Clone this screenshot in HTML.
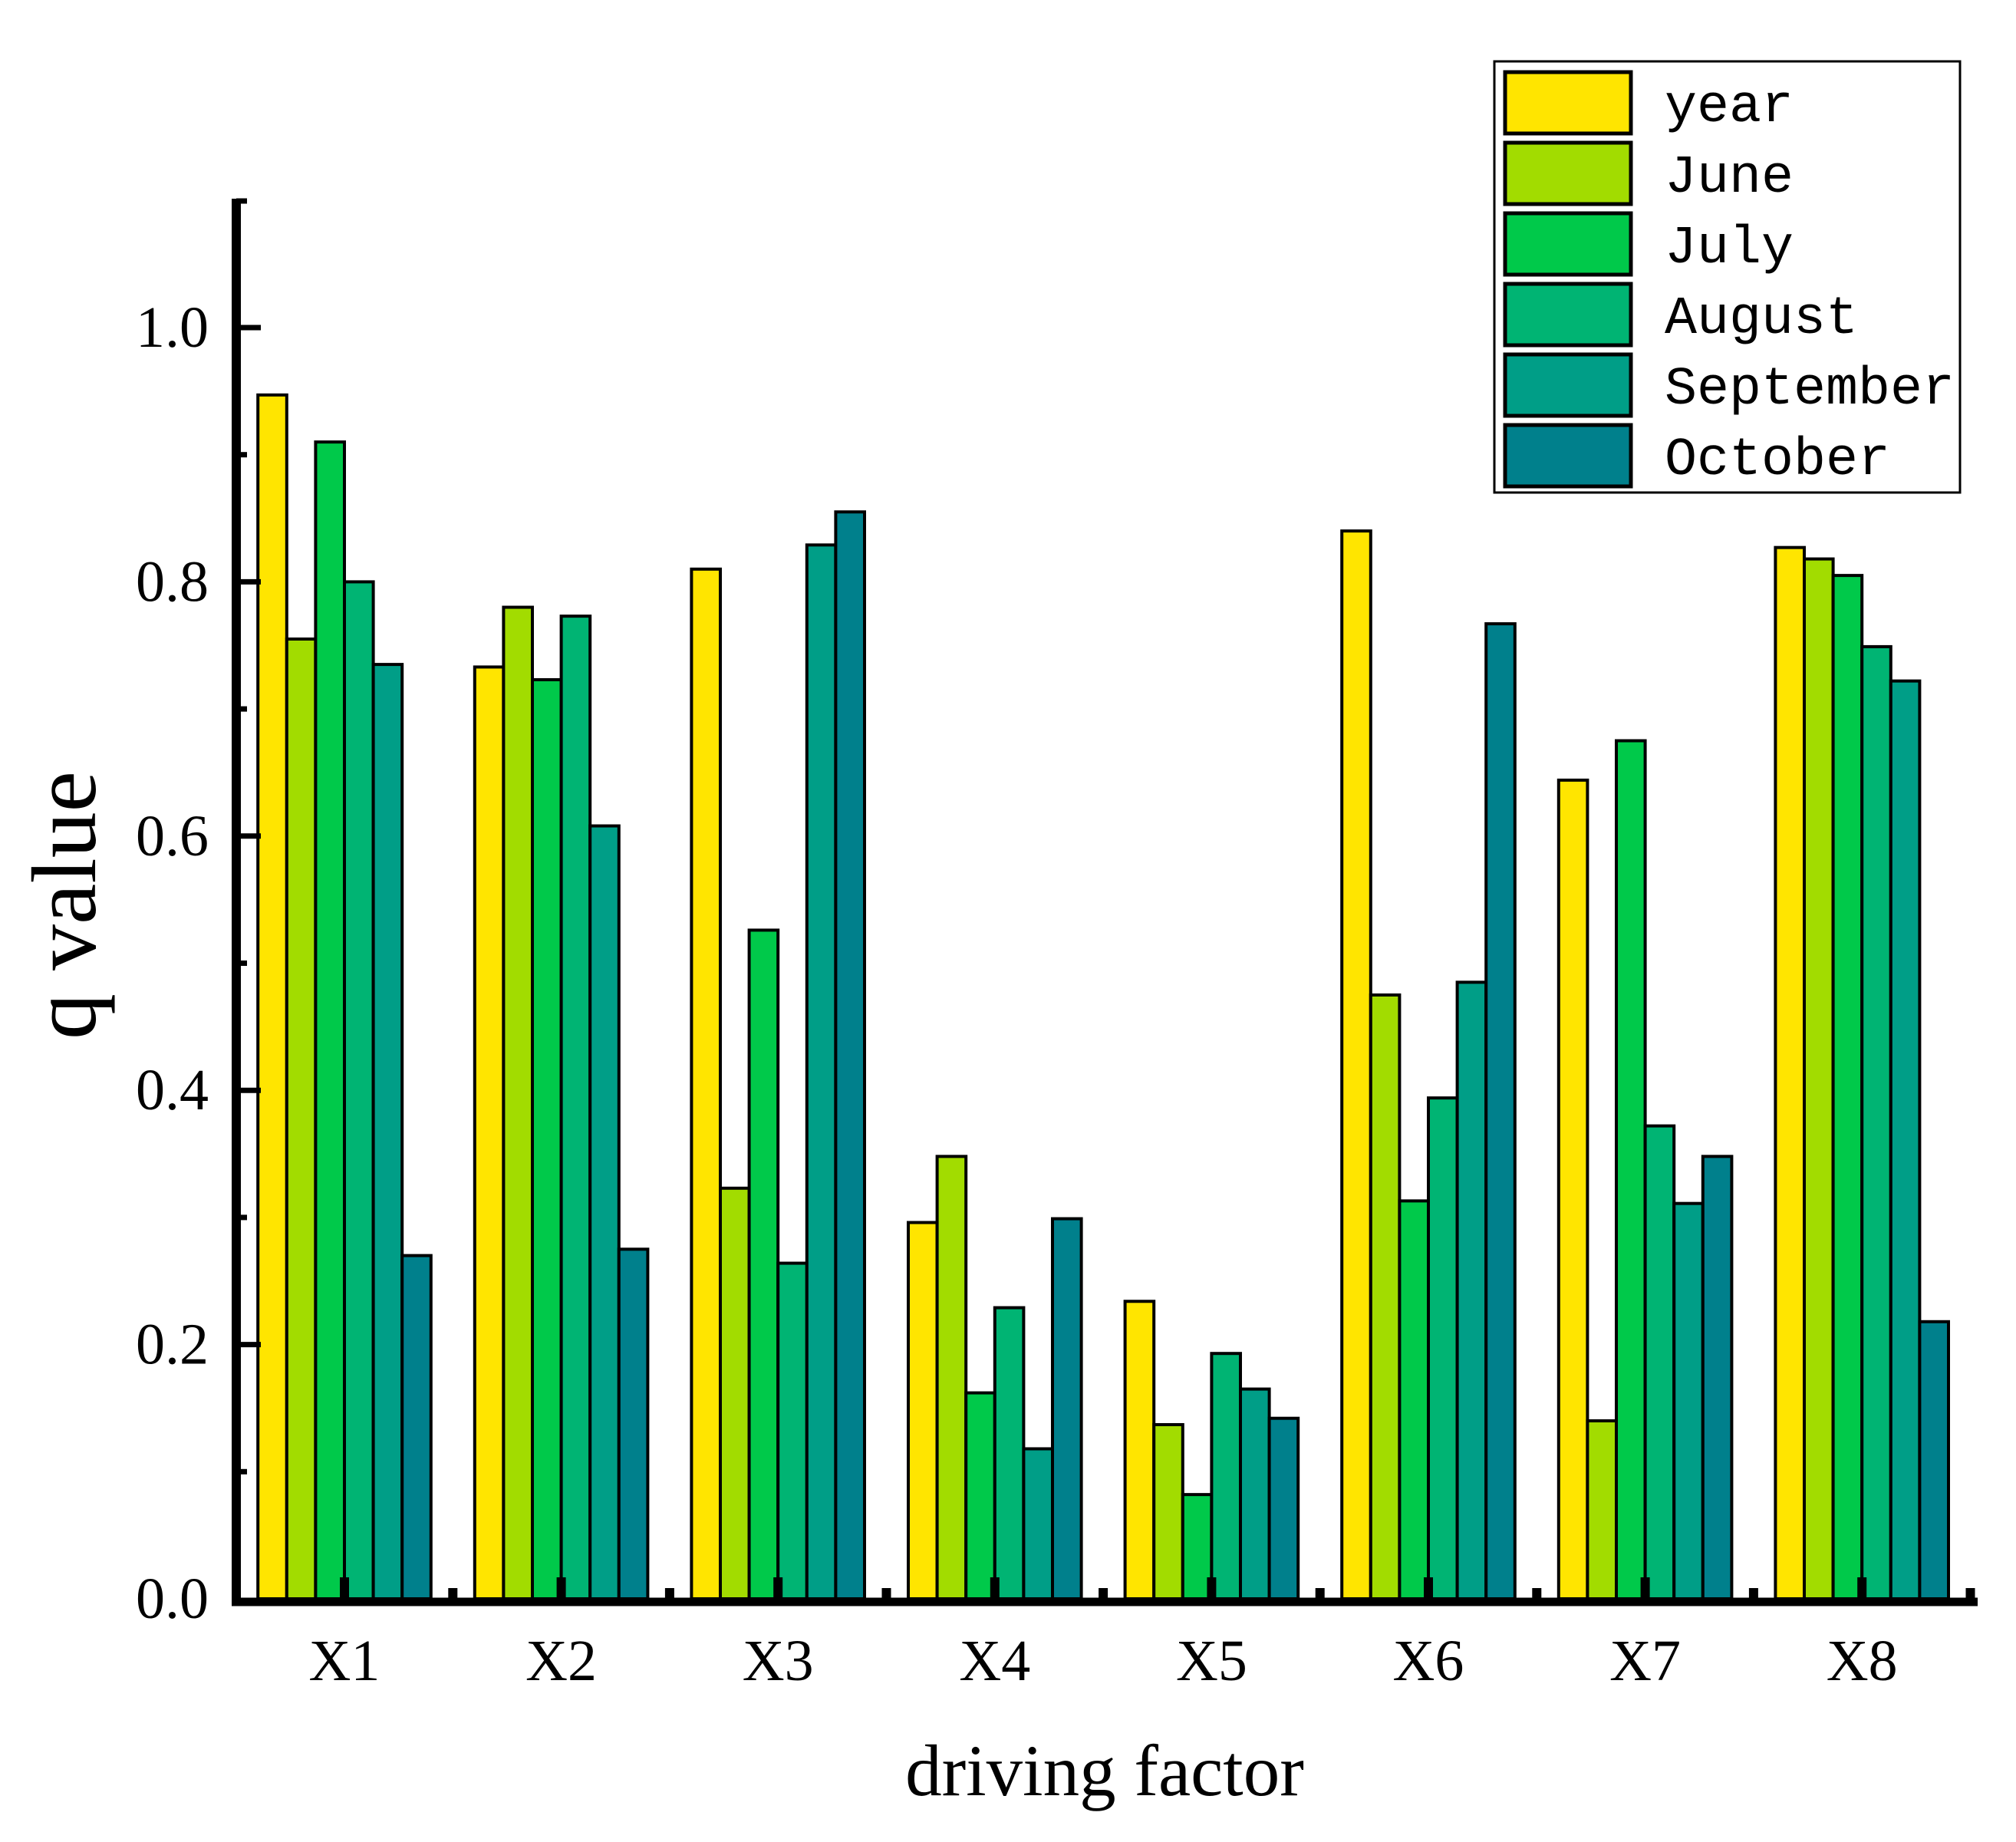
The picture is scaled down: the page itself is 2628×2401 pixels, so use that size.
<!DOCTYPE html>
<html><head><meta charset="utf-8"><style>
html,body{margin:0;padding:0;background:#fff;}
svg{display:block;}
</style></head><body>
<svg id="chart" width="2628" height="2401" viewBox="0 0 2628 2401" xmlns="http://www.w3.org/2000/svg">
<g id="bars"></g>
<g id="axes"></g>
<text x="0" y="0" transform="translate(124,1180) rotate(-90)" font-family="Liberation Serif, serif" font-size="120" text-anchor="middle">q value</text>
<text x="1440" y="2340" font-family="Liberation Serif, serif" font-size="95" text-anchor="middle">driving factor</text>
<g id="legend"></g>
</svg>
<script>
const categories = ["X1","X2","X3","X4","X5","X6","X7","X8"];
const seriesNames = ["year","June","July","August","September","October"];
const seriesColors = ["#FFE500","#A2DC00","#00C94A","#00B473","#009E87","#00808C"];
const yearVals = [0.947,0.733,0.810,0.296,0.234,0.840,0.644,0.827];
const juneVals = [0.755,0.780,0.323,0.348,0.137,0.475,0.140,0.818];
const julyVals = [0.910,0.723,0.526,0.162,0.082,0.313,0.675,0.805];
const augustVals = [0.800,0.773,0.264,0.229,0.193,0.394,0.372,0.749];
const septemberVals = [0.735,0.608,0.829,0.118,0.165,0.485,0.311,0.722];
const octoberVals = [0.270,0.275,0.855,0.299,0.142,0.767,0.348,0.218];
const yTicks = [0,0.2,0.4,0.6,0.8,1.0];
const yTickLabels = ["0.0","0.2","0.4","0.6","0.8","1.0"];

const series = [yearVals,juneVals,julyVals,augustVals,septemberVals,octoberVals];
const NS = "http://www.w3.org/2000/svg";
const y0 = 2084, yScale = 1657;
function yPos(v){ return y0 - v*yScale; }
const x1c = 449, catStep = 282.6, barW = 37.6;
function xCenter(i){ return x1c + i*catStep; }
function mk(tag, attrs, parent){ const e=document.createElementNS(NS,tag); for(const k in attrs) e.setAttribute(k,attrs[k]); parent.appendChild(e); return e; }

const barsG = document.getElementById("bars");
categories.forEach((c,i)=>{
  series.forEach((s,j)=>{
    const x = xCenter(i) - 3*barW + j*barW;
    const r = mk("rect",{x:x,y:yPos(s[i]),width:barW,height:y0-yPos(s[i]),fill:seriesColors[j],stroke:"#000","stroke-width":4},barsG);
    
    
  });
});

const ax = document.getElementById("axes");
const axisX = 308, axisTop = 259, axisRight = 2578;
let l = mk("line",{x1:axisX,y1:axisTop,x2:axisX,y2:y0+8,stroke:"#000","stroke-width":12},ax);


l = mk("line",{x1:axisX-6,y1:y0+4,x2:axisRight,y2:y0+4,stroke:"#000","stroke-width":11},ax);


mk("line",{x1:axisX,y1:axisTop+3,x2:axisX+14,y2:axisTop+3,stroke:"#000","stroke-width":7},ax);
for(let k=1;k<=10;k+=2){
  const t = mk("line",{x1:axisX,y1:yPos(k/10),x2:axisX+14,y2:yPos(k/10),stroke:"#000","stroke-width":7},ax);
  
  
}
yTicks.forEach((v,k)=>{
  if(v>0){
    const t = mk("line",{x1:axisX,y1:yPos(v),x2:axisX+32,y2:yPos(v),stroke:"#000","stroke-width":7},ax);
    
    
  }
  const tx = mk("text",{x:272,y:yPos(v)+25,"font-family":"Liberation Serif, serif","font-size":76,"text-anchor":"end"},ax);
  tx.textContent = yTickLabels[k];
  
  
});
categories.forEach((c,i)=>{
  const t = mk("rect",{x:xCenter(i)-6,y:y0-28,width:12,height:30,fill:"#000"},ax);
  
  
  if(i>0){
    const m = mk("rect",{x:xCenter(i)-catStep/2-6,y:y0-14,width:12,height:16,fill:"#000"},ax);
    
    
  }
  const tx = mk("text",{x:xCenter(i),y:2190,"font-family":"Liberation Serif, serif","font-size":76,"text-anchor":"middle"},ax);
  tx.textContent = c;
  
  
});
const lastMinor = mk("rect",{x:xCenter(7)+catStep/2-6,y:y0-14,width:12,height:16,fill:"#000"},ax);



const lg = document.getElementById("legend");
const box = mk("rect",{x:1948,y:80,width:607,height:562,fill:"#fff",stroke:"#000","stroke-width":3},lg);


seriesNames.forEach((n,j)=>{
  const yy = 94 + j*92;
  const g = mk("g",{},lg);
  
  
  mk("rect",{x:1962,y:yy,width:164,height:80,fill:seriesColors[j],stroke:"#000","stroke-width":5},g);
  const t = mk("text",{x:2170,y:yy+64,"font-family":"Liberation Mono, monospace","font-size":70},g);
  t.textContent = n;
});
</script>
</body></html>
